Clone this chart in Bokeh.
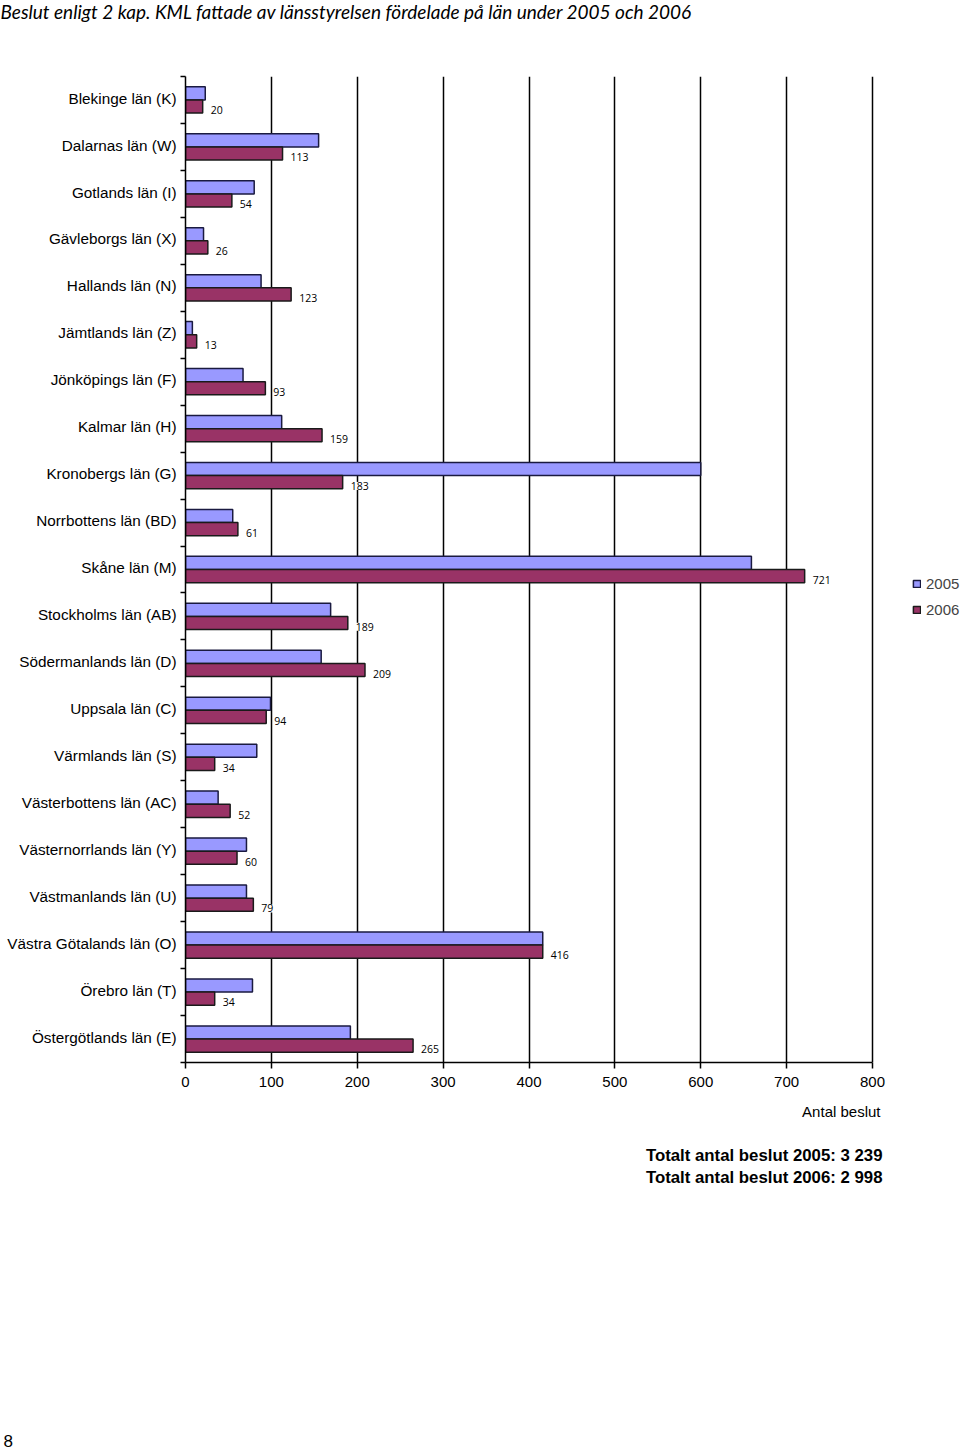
from bokeh.plotting import figure
from bokeh.layouts import column
from bokeh.models import (Range1d, FixedTicker, LabelSet, Label, Legend, LegendItem,
                          ColumnDataSource)
from bokeh.core.properties import value
from bokeh.embed import file_html
from bokeh.resources import INLINE

title_text = "Beslut enligt 2 kap. KML fattade av länsstyrelsen fördelade på län under 2005 och 2006"

categories = [
    "Blekinge län (K)", "Dalarnas län (W)", "Gotlands län (I)", "Gävleborgs län (X)",
    "Hallands län (N)", "Jämtlands län (Z)", "Jönköpings län (F)", "Kalmar län (H)",
    "Kronobergs län (G)", "Norrbottens län (BD)", "Skåne län (M)", "Stockholms län (AB)",
    "Södermanlands län (D)", "Uppsala län (C)", "Värmlands län (S)", "Västerbottens län (AC)",
    "Västernorrlands län (Y)", "Västmanlands län (U)", "Västra Götalands län (O)",
    "Örebro län (T)", "Östergötlands län (E)",
]
values_2005 = [23, 155, 80, 21, 88, 8, 67, 112, 600, 55, 659, 169, 158, 99, 83, 38, 71, 71, 416, 78, 192]
values_2006 = [20, 113, 54, 26, 123, 13, 93, 159, 183, 61, 721, 189, 209, 94, 34, 52, 60, 79, 416, 34, 265]
series_names = ["2005", "2006"]
x_ticks = [0, 100, 200, 300, 400, 500, 600, 700, 800]
x_label = "Antal beslut"
totals = ["Totalt antal beslut 2005: 3 239", "Totalt antal beslut 2006: 2 998"]
page_number = "8"

W = 960
TOP_H = 30
MAIN_H = 1070
BOT_H = 1449 - TOP_H - MAIN_H

# ---------- title strip ----------
top = figure(width=W, height=TOP_H, x_range=Range1d(0, W), y_range=Range1d(TOP_H, 0),
             output_backend="svg", toolbar_location=None, x_axis_type=None, y_axis_type=None,
             min_border=0)
top.frame_align = False
top.outline_line_color = None
top.grid.visible = False
top.add_layout(Label(x=0, y=11, text=title_text, text_font="Lato", text_font_style="italic",
                     text_font_size="19px", text_baseline="middle", text_align="left",
                     text_color="black"))

# ---------- main chart ----------
n = len(categories)
centers = [i + 0.5 for i in range(n)]
label_pos = [c - 0.04 for c in centers]
bar_h = 0.28
src = ColumnDataSource(dict(
    cat=categories,
    v05=values_2005,
    v06=values_2006,
    y05=[c - bar_h / 2 for c in centers],
    y06=[c + bar_h / 2 for c in centers],
    ylab=[c + bar_h / 2 + 0.08 for c in centers],
    lab=[str(v) for v in values_2006],
))

frame_left = 185
x_max = 800 * (W - frame_left) / 687.0
p = figure(width=W, height=MAIN_H, x_range=Range1d(0, x_max), y_range=Range1d(n, 0),
           output_backend="svg", toolbar_location=None,
           min_border_left=frame_left, min_border_right=0, min_border_top=46,
           min_border_bottom=MAIN_H - 46 - 986)
p.frame_align = False
p.outline_line_color = None
p.background_fill_color = "white"
p.ygrid.visible = False
p.xgrid.ticker = FixedTicker(ticks=x_ticks)
p.xgrid.grid_line_color = "black"
p.xgrid.grid_line_width = 1.5

xa = p.xaxis[0]
xa.ticker = FixedTicker(ticks=x_ticks)
xa.bounds = (0, 800)
xa.axis_line_color = "black"
xa.axis_line_width = 1.5
xa.major_tick_line_width = 1.5
xa.major_tick_out = 6
xa.major_tick_in = 0
xa.minor_tick_line_color = None
xa.major_label_standoff = 8
xa.major_label_text_font = "Liberation Sans"
xa.major_label_text_font_size = "15px"
xa.major_label_text_color = "black"

ya = p.yaxis[0]
ya.ticker = FixedTicker(ticks=label_pos, minor_ticks=list(range(n + 1)))
ya.major_label_overrides = {c: cat for c, cat in zip(label_pos, categories)}
ya.axis_line_color = "black"
ya.axis_line_width = 1.5
ya.major_tick_line_color = None
ya.major_tick_out = 0
ya.major_tick_in = 0
ya.minor_tick_line_color = "black"
ya.minor_tick_line_width = 1.5
ya.minor_tick_out = 5
ya.minor_tick_in = 0
ya.major_label_standoff = 4
ya.major_label_text_font = "Liberation Sans"
ya.major_label_text_font_size = "15.3px"
ya.major_label_text_color = "black"

r05 = p.hbar(y="y05", left=0, right="v05", height=bar_h, source=src,
             fill_color="#9999FF", line_color="#1a1a40", line_width=1.5)
r06 = p.hbar(y="y06", left=0, right="v06", height=bar_h, source=src,
             fill_color="#993366", line_color="#1a1a1a", line_width=1.5)

labels = LabelSet(x="v06", y="ylab", text="lab", source=src, x_offset=8,
                  text_baseline="middle", text_align="left",
                  text_font=value("Open Sans"), text_font_size="10.5px", text_color="black",
                  background_fill_color="white")
p.add_layout(labels)

legend = Legend(items=[LegendItem(label=series_names[0], renderers=[r05]),
                       LegendItem(label=series_names[1], renderers=[r06])],
                location=(727, 444), padding=0, margin=0, spacing=9,
                glyph_width=9, glyph_height=9, label_standoff=5, label_height=17,
                label_text_font="Liberation Sans", label_text_font_size="15px",
                border_line_color=None, background_fill_alpha=0)
p.add_layout(legend, "center")

# ---------- bottom strip ----------
bot = figure(width=W, height=BOT_H, x_range=Range1d(0, W), y_range=Range1d(BOT_H, 0),
             output_backend="svg", toolbar_location=None, x_axis_type=None, y_axis_type=None,
             min_border=0)
bot.frame_align = False
bot.outline_line_color = None
bot.grid.visible = False
bot.add_layout(Label(x=880, y=11, text=x_label, text_font="Liberation Sans",
                     text_font_size="15px", text_baseline="middle", text_align="right",
                     text_color="black"))
for i, t in enumerate(totals):
    bot.add_layout(Label(x=882, y=55 + 22 * i, text=t, text_font="Liberation Sans",
                         text_font_style="bold", text_font_size="16.8px",
                         text_baseline="middle", text_align="right", text_color="black"))
bot.add_layout(Label(x=3, y=BOT_H - 9, text=page_number, text_font="Liberation Sans",
                     text_font_size="17px", text_baseline="middle", text_align="left",
                     text_color="black"))

layout = column(top, p, bot, spacing=0)
open("out.html", "w").write(file_html(layout, INLINE))
